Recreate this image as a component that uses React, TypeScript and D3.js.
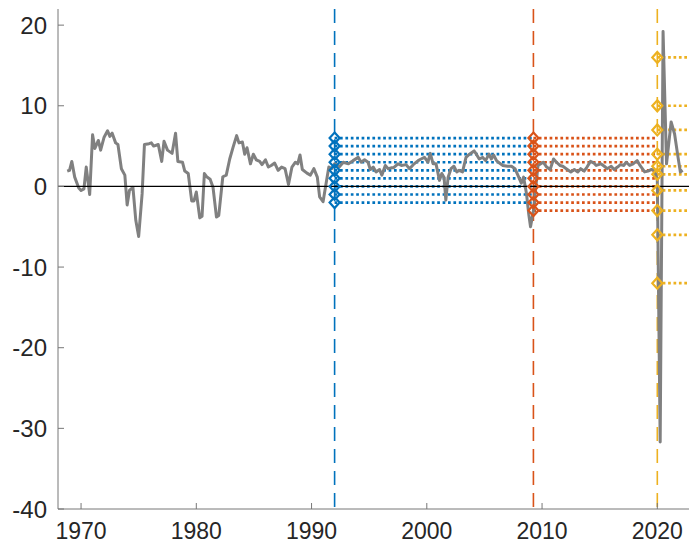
import React from "react";
import * as d3 from "d3";

// quarterly growth series (decimal year, percent)
const dates = [
  1968.8, 1969.0, 1969.2, 1969.45, 1969.8, 1970.0, 1970.25, 1970.45, 1970.75,
  1971.0, 1971.2, 1971.5, 1971.7, 1972.0, 1972.3, 1972.5, 1972.7, 1973.0,
  1973.2, 1973.5, 1973.8, 1974.0, 1974.2, 1974.5, 1974.75, 1975.0, 1975.3,
  1975.5, 1975.9, 1976.1, 1976.3, 1976.7, 1977.0, 1977.2, 1977.5, 1977.9,
  1978.2, 1978.4, 1978.8, 1979.0, 1979.3, 1979.6, 1979.8, 1980.0, 1980.3,
  1980.5, 1980.7, 1980.9, 1981.2, 1981.45, 1981.75, 1981.95, 1982.3, 1982.6,
  1982.9, 1983.2, 1983.5, 1983.7, 1984.0, 1984.2, 1984.4, 1984.7, 1984.95,
  1985.2, 1985.5, 1985.7, 1986.0, 1986.25, 1986.5, 1986.8, 1987.1, 1987.4,
  1987.7, 1988.0, 1988.3, 1988.6, 1988.8, 1989.0, 1989.2, 1989.6, 1989.9,
  1990.2, 1990.5, 1990.7, 1991.0, 1991.3, 1991.5, 1991.75, 1992.0, 1992.4,
  1992.75, 1993.2, 1993.6, 1994.05, 1994.3, 1994.6, 1994.9, 1995.1, 1995.35,
  1995.6, 1995.9, 1996.1, 1996.4, 1996.65, 1996.9, 1997.1, 1997.5, 1997.8,
  1998.2, 1998.5, 1998.9, 1999.25, 1999.5, 1999.8, 2000.1, 2000.3, 2000.55,
  2000.8, 2001.1, 2001.3, 2001.5, 2001.65, 2001.85, 2002.1, 2002.35, 2002.6,
  2002.8, 2003.1, 2003.4, 2003.7, 2004.1, 2004.3, 2004.55, 2004.85, 2005.1,
  2005.4, 2005.6, 2005.8, 2006.05, 2006.3, 2006.6, 2007.0, 2007.35, 2007.65,
  2007.9, 2008.2, 2008.4, 2008.65, 2008.85, 2009.0, 2009.25, 2009.5, 2009.65,
  2010.1, 2010.4, 2010.7, 2011.0, 2011.25, 2011.55, 2011.8, 2012.1, 2012.5,
  2012.8, 2013.1, 2013.35, 2013.65, 2013.9, 2014.2, 2014.5, 2014.7, 2015.1,
  2015.4, 2015.65, 2016.0, 2016.25, 2016.55, 2016.8, 2017.1, 2017.3, 2017.6,
  2017.9, 2018.25, 2018.5, 2018.9, 2019.2, 2019.5, 2019.75, 2020.0, 2020.25,
  2020.5, 2020.8, 2021.2, 2021.5, 2021.8, 2022.0, 2022.2,
];
const growth = [
  1.9, 2.0, 3.1, 1.15, -0.2, -0.5, -0.3, 2.4, -1.0,
  6.4, 4.7, 5.7, 4.5, 6.1, 6.9, 6.2, 6.6, 5.4,
  5.2, 2.2, 1.4, -2.3, -0.5, -0.1, -4.2, -6.2, -0.9,
  5.2, 5.3, 5.4, 5.0, 5.2, 3.1, 5.6, 4.5, 4.1,
  6.6, 3.1, 3.0, 1.9, 1.6, -1.8, -1.8, -0.7, -3.9,
  -3.7, 1.6, 1.2, 0.9, -0.1, -3.8, -3.6, 1.2, 1.4,
  3.4, 4.9, 6.3, 5.4, 5.5, 4.0, 4.8, 2.8, 4.0,
  3.3, 3.1, 2.7, 3.3, 2.4, 2.6, 2.9, 2.0, 2.4,
  2.2, 0.25, 2.4, 3.0, 2.8, 3.9, 2.1, 1.65, 1.4,
  2.2, 1.15, -1.3, -1.9, 0.7, 2.4, 2.2, 2.8, 2.4,
  3.0, 2.8, 3.2, 3.6, 3.0, 3.3, 3.0, 2.1, 2.4,
  1.8, 2.1, 1.4, 2.6, 2.2, 2.3, 2.3, 2.8, 2.6,
  2.7, 2.2, 2.8, 3.2, 3.4, 3.6, 3.0, 4.1, 2.8,
  2.8, 0.75, 1.6, 1.1, -1.7, 1.15, 2.2, 2.5, 1.8,
  2.0, 1.8, 3.6, 4.0, 4.4, 4.0, 3.4, 3.6, 3.2,
  4.0, 3.4, 3.9, 3.2, 2.9, 2.6, 2.5, 2.5, 2.2,
  1.4, 0.4, 1.15, -0.9, -3.5, -5.0, -3.0, 0.5, 2.6,
  3.0, 2.4, 2.1, 3.4, 3.0, 2.6, 2.5, 2.2, 1.8,
  2.1, 1.8, 2.2, 1.9, 2.4, 3.1, 2.9, 2.6, 2.8,
  2.5, 2.2, 2.5, 2.1, 2.4, 2.7, 2.6, 3.0, 2.6,
  2.8, 3.2, 2.6, 1.8, 1.9, 2.1, 2.0, 0.8, -31.7,
  19.2, 2.8, 8.0, 6.5, 3.6, 1.8, 2.0,
];

// forecast fan levels drawn at each break date
const breakDates = [1992.0, 2009.25, 2020.0];
const breakColors = ["#0072BD", "#D95319", "#EDB120"];
const blueLevels = [6, 5, 4, 3, 2, 1, 0, -1, -2];
const orangeLevels = [6, 5, 4, 3, 2, 1, 0, -1, -2, -3];
const yellowLevels = [16, 10, 7, 4, 2.5, 1.5, -0.5, -3, -6, -12];
const levelSets = [blueLevels, orangeLevels, yellowLevels];

const xTicks = [1970, 1980, 1990, 2000, 2010, 2020];
const yTicks = [-40, -30, -20, -10, 0, 10, 20];

const W = 689;
const H = 545;
const FONT = "'Liberation Sans', Arial, Helvetica, sans-serif";

export default function App() {
  const x = d3.scaleLinear().domain([1968, 2022.75]).range([58, 689]);
  const y = d3.scaleLinear().domain([-40, 22]).range([509, 9]);
  const [x0, x1] = x.range();
  const [yb, yt] = y.range();

  const line = d3
    .line<number>()
    .x((_, i) => x(dates[i]))
    .y((d) => y(d));

  const diamond = (cx: number, cy: number) =>
    `M${cx},${cy - 5.5}L${cx + 5},${cy}L${cx},${cy + 5.5}L${cx - 5},${cy}Z`;

  return (
    <svg
      width={W}
      height={H}
      style={{ position: "absolute", left: 0, top: 0, background: "#fff" }}
    >
      <defs>
        <clipPath id="plot">
          <rect x={x0} y={yt} width={x1 - x0} height={yb - yt} />
        </clipPath>
      </defs>

      <g clipPath="url(#plot)">
        {/* vertical break lines */}
        {breakDates.map((d, i) => (
          <line
            key={"v" + i}
            x1={x(d)}
            x2={x(d)}
            y1={yt}
            y2={yb}
            stroke={breakColors[i]}
            strokeWidth={1.6}
            strokeDasharray="14 8"
          />
        ))}

        {/* dotted horizontal levels, each running to the next break */}
        {levelSets.map((levels, i) =>
          levels.map((v, j) => (
            <line
              key={`h${i}-${j}`}
              x1={x(breakDates[i])}
              x2={i < breakDates.length - 1 ? x(breakDates[i + 1]) : x1 + 10}
              y1={y(v)}
              y2={y(v)}
              stroke={breakColors[i]}
              strokeWidth={2.7}
              strokeDasharray="2.7 2.7"
            />
          ))
        )}

        <path
          d={line(growth) || ""}
          fill="none"
          stroke="#808080"
          strokeWidth={3}
          strokeLinejoin="round"
        />

        <line x1={x0} x2={x1} y1={y(0)} y2={y(0)} stroke="#000" strokeWidth={1.2} />

        {levelSets.map((levels, i) =>
          levels.map((v, j) => (
            <path
              key={`m${i}-${j}`}
              d={diamond(x(breakDates[i]), y(v))}
              fill="none"
              stroke={breakColors[i]}
              strokeWidth={2.2}
            />
          ))
        )}
      </g>

      {/* axes */}
      <line x1={x0} x2={x0} y1={yt} y2={yb} stroke="#777" strokeWidth={1} />
      <line x1={x0} x2={x1} y1={yb} y2={yb} stroke="#777" strokeWidth={1} />
      {yTicks.map((t) => (
        <g key={"yt" + t}>
          <line x1={x0} x2={x0 + 6} y1={y(t)} y2={y(t)} stroke="#777" />
          <text
            x={x0 - 11}
            y={y(t)}
            dy="0.36em"
            textAnchor="end"
            fontFamily={FONT}
            fontSize={24}
            fill="#262626"
          >
            {t}
          </text>
        </g>
      ))}
      {xTicks.map((t) => (
        <g key={"xt" + t}>
          <line x1={x(t)} x2={x(t)} y1={yb} y2={yb - 6} stroke="#777" />
          <text
            x={x(t)}
            y={539}
            textAnchor="middle"
            fontFamily={FONT}
            fontSize={23}
            fill="#262626"
          >
            {t}
          </text>
        </g>
      ))}
    </svg>
  );
}
